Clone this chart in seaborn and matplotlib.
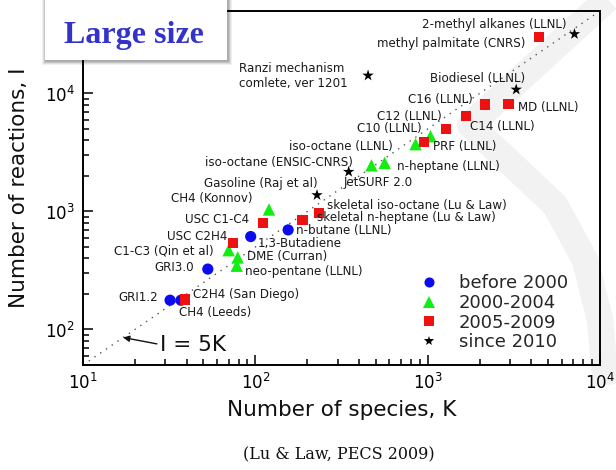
import numpy as np
import pandas as pd
import matplotlib
matplotlib.use("Agg")
import matplotlib.pyplot as plt
import seaborn as sns
from matplotlib.patches import Rectangle

# ---------------- data ----------------
periods = ["before 2000", "2000-2004", "2005-2009", "since 2010"]

names = [
    "GRI1.2", "CH4 (Leeds)", "GRI3.0", "1,3-Butadiene", "n-butane (LLNL)",
    "C1-C3 (Qin et al)", "DME (Curran)", "neo-pentane (LLNL)", "CH4 (Konnov)",
    "iso-octane (ENSIC-CNRS)", "n-heptane (LLNL)", "iso-octane (LLNL)", "PRF (LLNL)",
    "C2H4 (San Diego)", "USC C2H4", "USC C1-C4", "skeletal n-heptane (Lu & Law)",
    "skeletal iso-octane (Lu & Law)", "C10 (LLNL)", "C12 (LLNL)", "C14 (LLNL)",
    "C16 (LLNL)", "MD (LLNL)", "methyl palmitate (CNRS)",
    "Gasoline (Raj et al)", "JetSURF 2.0", "Ranzi mechanism\ncomlete, ver 1201",
    "Biodiesel (LLNL)", "2-methyl alkanes (LLNL)",
]
species = [32, 37, 53, 94, 155,
           70, 79, 78, 120,
           472, 563, 851, 1038,
           39, 74, 111, 188,
           234, 948, 1283, 1667,
           2147, 2950, 4420,
           228, 348, 451,
           3265, 7110]
reactions = [177, 177, 325, 613, 698,
             470, 408, 347, 1040,
             2460, 2580, 3720, 4340,
             179, 539, 795, 847,
             966, 3880, 5030, 6440,
             8070, 8180, 30300,
             1377, 2170, 14200,
             10800, 31900]
period = (["before 2000"] * 5 + ["2000-2004"] * 8 +
          ["2005-2009"] * 11 + ["since 2010"] * 5)

line_K = [10, 10000]   # reference line I = 5K

# ---------------- label layout (pixel offsets from each point) ----------------
label_ha = ["right", "left", "right", "left", "left",
            "right", "left", "left", "right",
            "right", "left", "right", "left",
            "left", "right", "right", "left",
            "left", "right", "right", "left",
            "right", "left", "right",
            "right", "left", "right",
            "right", "right"]
label_dx = [-12, -2, -14, 7, 8,
            -15, 9, 8, -16,
            -19, 12, -23, 3,
            8, -5, -14, 14,
            8, -2, -5, 4,
            -12, 9, -14,
            1, -5, -20,
            9, -8]
label_dy = [-3, 12, -2, 7, 1,
            1, -1, 6, -11,
            -3, 4, 2, 10,
            -5, -7, -4, -2,
            -8, -13, -12, 10,
            -5, 4, 7,
            -12, 11, 0,
            -11, -10]

# ---------------- styling ----------------
sns.set_style("ticks")
plt.rcParams["font.family"] = ["DejaVu Sans"]

W, H = 616, 470
fig = plt.figure(figsize=(W / 100, H / 100), dpi=100, facecolor="white")
ax = fig.add_axes([83 / W, (H - 365) / H, 517 / W, 354 / H])
ax.set_facecolor("white")

# light watermark band (background decoration)
wm_x = [650, 470, 555, 585, 600, 606]
wm_y = [-40, 125, 205, 260, 320, 385]
ax.plot([x / W for x in wm_x], [1 - y / H for y in wm_y], transform=fig.transFigure,
        color="#f2f2f2", lw=19, solid_joinstyle="round", solid_capstyle="butt",
        clip_on=False, zorder=0.3)

ax.set_xscale("log")
ax.set_yscale("log")

ax.plot(line_K, [5 * k for k in line_K], ls=(0, (1, 4)), color="#555555", lw=1.0, zorder=1)

df = pd.DataFrame({"K": species, "I": reactions, "period": period, "name": names})
palette = {"before 2000": "#0b0bf2", "2000-2004": "#12ee12",
           "2005-2009": "#ee1111", "since 2010": "#000000"}
markers = {"before 2000": "o", "2000-2004": "^", "2005-2009": "s", "since 2010": "*"}
sizes = {"before 2000": 65, "2000-2004": 80, "2005-2009": 55, "since 2010": 75}

sns.scatterplot(data=df, x="K", y="I", hue="period", style="period", size="period",
                hue_order=periods, style_order=periods, size_order=periods,
                palette=palette, markers=markers, sizes=sizes, linewidth=0,
                ax=ax, zorder=3, legend="full")

ax.set_xlim(10, 1e4)
ax.set_ylim(50, 5e4)

for nm, k, r, ha, dx, dy in zip(names, species, reactions, label_ha, label_dx, label_dy):
    ax.annotate(nm, xy=(k, r), xytext=(dx, -dy), textcoords="offset pixels",
                ha=ha, va="center", fontsize=8.6, color="#1a1a1a",
                multialignment="left", zorder=4)

# I = 5K arrow annotation
ax.annotate("I = 5K", xy=(17.1, 85.5), xytext=(37, -7), textcoords="offset pixels",
            ha="left", va="center", fontsize=15.5, color="#111111",
            arrowprops=dict(arrowstyle="-|>", color="#111111", lw=1.0,
                            mutation_scale=9, shrinkA=0, shrinkB=0, relpos=(0, 0.5)))

ax.set_xlabel("Number of species, K", fontsize=15.5, labelpad=5, color="#111111")
ax.set_ylabel("Number of reactions, I", fontsize=15.5, labelpad=11, color="#111111")

for s in ax.spines.values():
    s.set_visible(True)
    s.set_linewidth(1.4)
    s.set_color("black")
ax.tick_params(which="both", direction="in", top=False, right=False, width=1.1,
               labelsize=12, colors="black")
ax.tick_params(which="major", length=7, pad=6)
ax.tick_params(which="minor", length=4)

sns.move_legend(ax, loc="upper left", bbox_to_anchor=(411 / W, 1 - 265 / H),
                bbox_transform=fig.transFigure, frameon=False, title=None,
                fontsize=13, handlelength=1.0, handletextpad=1.16,
                labelspacing=0.1, borderpad=0, markerscale=0.9)

# caption
fig.text(339 / W, 1 - 455 / H, "(Lu & Law, PECS 2009)", ha="center", va="center",
         family="DejaVu Serif", fontsize=11.5, color="#111111")

# "Large size" box with soft shadow
for i, a in enumerate([0.06, 0.08, 0.10, 0.12]):
    off = 5 - i
    fig.add_artist(Rectangle(((45 - off + 2) / W, 1 - (60 + off) / H),
                             (182 + 2 * off - 2) / W, (60 + off) / H,
                             transform=fig.transFigure, facecolor="black",
                             alpha=a, edgecolor="none", zorder=5))
fig.add_artist(Rectangle((45 / W, 1 - 60 / H), 182 / W, 60 / H,
                         transform=fig.transFigure, facecolor="white",
                         edgecolor="none", zorder=6))
fig.text(133.5 / W, 1 - 43 / H, "Large size", ha="center", va="baseline",
         family="Liberation Serif", fontweight="bold", fontsize=23,
         color="#3333cc", zorder=7)

fig.savefig("out.png", dpi=100, facecolor="white")
